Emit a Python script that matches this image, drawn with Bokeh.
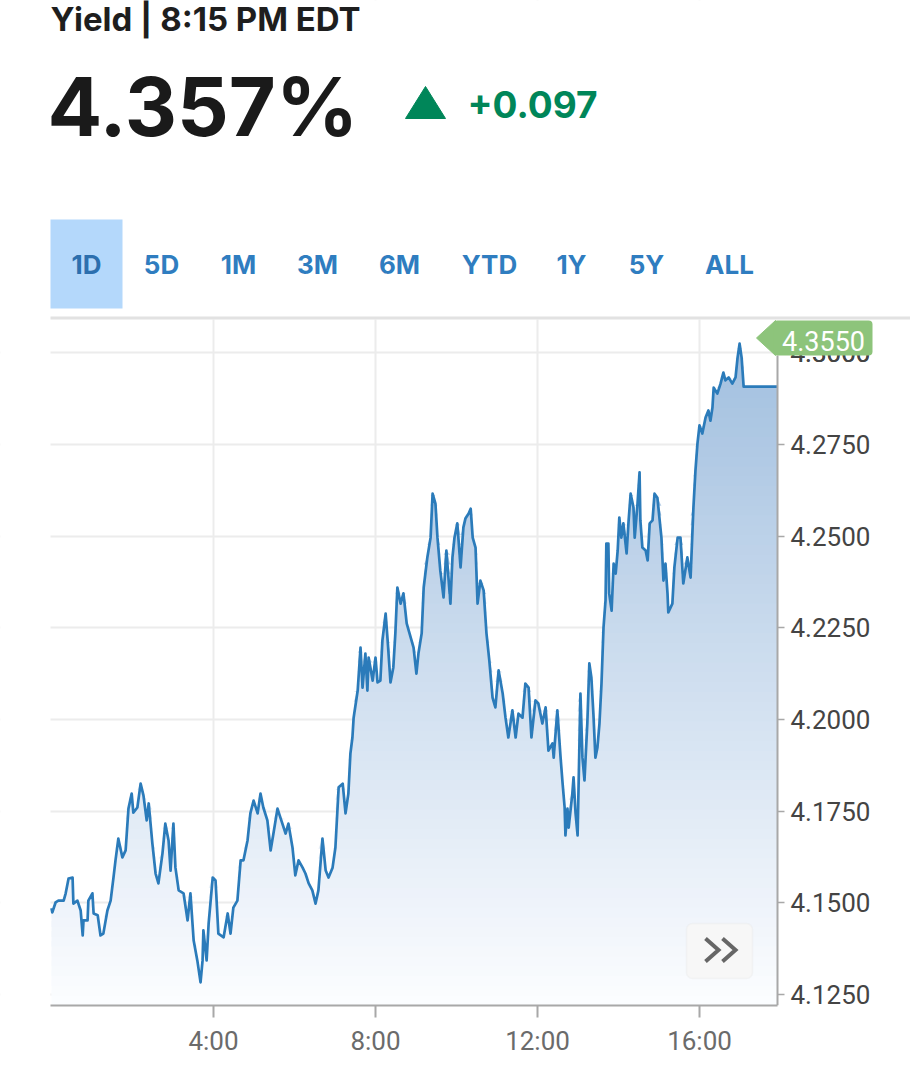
import numpy as np
from bokeh.plotting import figure
from bokeh.models import (Range1d, FixedTicker, NumeralTickFormatter, Label,
                          BoxAnnotation, ColumnDataSource)
from bokeh.embed import file_html
from bokeh.resources import INLINE

# ---------------- data ----------------
hours = [0.00, 0.02, 0.10, 0.17, 0.30, 0.35, 0.42, 0.52, 0.54, 0.64, 0.72, 0.77, 0.79, 0.89, 0.91,
         1.01, 1.04, 1.14, 1.21, 1.28, 1.38, 1.46, 1.53, 1.58, 1.65, 1.75, 1.83, 1.90, 1.98, 2.02,
         2.12, 2.20, 2.27, 2.35, 2.40, 2.49, 2.57, 2.64, 2.74, 2.81, 2.89, 2.94, 3.01, 3.06, 3.14,
         3.26, 3.36, 3.43, 3.51, 3.60, 3.68, 3.73, 3.75, 3.83, 3.88, 3.98, 4.05, 4.12, 4.25, 4.35,
         4.42, 4.49, 4.59, 4.67, 4.74, 4.84, 4.91, 4.99, 5.09, 5.16, 5.23, 5.33, 5.41, 5.48, 5.58,
         5.65, 5.78, 5.85, 5.95, 6.02, 6.10, 6.20, 6.27, 6.35, 6.44, 6.52, 6.59, 6.69, 6.77, 6.84,
         6.94, 7.01, 7.09, 7.19, 7.26, 7.33, 7.38, 7.43, 7.46, 7.56, 7.63, 7.68, 7.75, 7.80, 7.83,
         7.93, 8.00, 8.05, 8.12, 8.17, 8.25, 8.30, 8.37, 8.44, 8.49, 8.54, 8.62, 8.69, 8.77, 8.84,
         8.94, 9.01, 9.06, 9.14, 9.19, 9.28, 9.36, 9.41, 9.48, 9.53, 9.60, 9.68, 9.75, 9.85, 9.90,
         9.95, 10.02, 10.10, 10.17, 10.22, 10.30, 10.35, 10.40, 10.47, 10.52, 10.59, 10.67, 10.74,
         10.81, 10.89, 10.96, 11.04, 11.14, 11.21, 11.28, 11.38, 11.46, 11.53, 11.63, 11.70, 11.78,
         11.85, 11.95, 12.02, 12.12, 12.20, 12.27, 12.37, 12.40, 12.49, 12.57, 12.62, 12.67, 12.69,
         12.74, 12.77, 12.86, 12.89, 12.94, 12.99, 13.06, 13.11, 13.16, 13.23, 13.28, 13.33, 13.38,
         13.43, 13.48, 13.53, 13.58, 13.63, 13.68, 13.70, 13.75, 13.77, 13.83, 13.88, 13.93, 13.98,
         14.02, 14.07, 14.12, 14.20, 14.25, 14.30, 14.37, 14.40, 14.47, 14.52, 14.54, 14.59, 14.67,
         14.72, 14.77, 14.84, 14.89, 14.96, 15.06, 15.11, 15.16, 15.21, 15.23, 15.33, 15.38, 15.46,
         15.53, 15.60, 15.70, 15.78, 15.85, 15.90, 15.95, 16.00, 16.07, 16.15, 16.22, 16.27, 16.32,
         16.35, 16.44, 16.52, 16.59, 16.64, 16.72, 16.81, 16.89, 16.94, 16.99, 17.04, 17.09, 17.93]

yields = [4.1485, 4.1474, 4.1501, 4.1506, 4.1506, 4.1526, 4.1566, 4.1569, 4.1498, 4.1506, 4.1479,
          4.1411, 4.1452, 4.1452, 4.1506, 4.1526, 4.1471, 4.1466, 4.1411, 4.1416, 4.1479, 4.1506,
          4.1569, 4.1616, 4.1675, 4.1624, 4.1643, 4.1757, 4.1798, 4.1746, 4.1760, 4.1825, 4.1793,
          4.1725, 4.1771, 4.1662, 4.1580, 4.1553, 4.1635, 4.1716, 4.1670, 4.1588, 4.1716, 4.1596,
          4.1534, 4.1526, 4.1452, 4.1526, 4.1397, 4.1343, 4.1283, 4.1343, 4.1425, 4.1343, 4.1444,
          4.1569, 4.1561, 4.1416, 4.1406, 4.1471, 4.1416, 4.1487, 4.1506, 4.1616, 4.1616, 4.1670,
          4.1744, 4.1779, 4.1744, 4.1798, 4.1760, 4.1725, 4.1643, 4.1689, 4.1757, 4.1733, 4.1689,
          4.1716, 4.1651, 4.1575, 4.1616, 4.1596, 4.1580, 4.1553, 4.1534, 4.1498, 4.1534, 4.1675,
          4.1588, 4.1569, 4.1596, 4.1651, 4.1815, 4.1825, 4.1744, 4.1798, 4.1907, 4.1951, 4.2005,
          4.2079, 4.2196, 4.2087, 4.2180, 4.2079, 4.2169, 4.2106, 4.2169, 4.2101, 4.2106, 4.2215,
          4.2289, 4.2215, 4.2101, 4.2142, 4.2235, 4.2360, 4.2316, 4.2344, 4.2262, 4.2235, 4.2196,
          4.2125, 4.2180, 4.2235, 4.2360, 4.2442, 4.2496, 4.2616, 4.2589, 4.2496, 4.2406, 4.2333,
          4.2461, 4.2316, 4.2442, 4.2496, 4.2535, 4.2415, 4.2524, 4.2548, 4.2562, 4.2575, 4.2496,
          4.2469, 4.2316, 4.2379, 4.2352, 4.2235, 4.2161, 4.2060, 4.2033, 4.2134, 4.2071, 4.2005,
          4.1951, 4.2025, 4.1951, 4.2016, 4.2005, 4.2098, 4.2087, 4.1951, 4.2052, 4.2044, 4.1989,
          4.2033, 4.1915, 4.1935, 4.1896, 4.2025, 4.1896, 4.1825, 4.1760, 4.1684, 4.1757, 4.1705,
          4.1798, 4.1842, 4.1744, 4.1684, 4.2071, 4.1896, 4.1834, 4.1989, 4.2153, 4.2115, 4.2016,
          4.1896, 4.1924, 4.1989, 4.2098, 4.2251, 4.2325, 4.2480, 4.2480, 4.2344, 4.2297, 4.2425,
          4.2398, 4.2461, 4.2551, 4.2496, 4.2535, 4.2453, 4.2543, 4.2616, 4.2578, 4.2496, 4.2589,
          4.2674, 4.2543, 4.2469, 4.2461, 4.2434, 4.2535, 4.2543, 4.2616, 4.2605, 4.2496, 4.2379,
          4.2425, 4.2344, 4.2292, 4.2316, 4.2415, 4.2496, 4.2496, 4.2371, 4.2442, 4.2387, 4.2578,
          4.2679, 4.2753, 4.2802, 4.2780, 4.2824, 4.2843, 4.2815, 4.2851, 4.2905, 4.2889, 4.2916,
          4.2946, 4.2925, 4.2933, 4.2916, 4.2933, 4.2987, 4.3025, 4.2987, 4.2908, 4.2908]

x_ticks = [4, 8, 12, 16]
x_tick_labels = ["4:00", "8:00", "12:00", "16:00"]
y_ticks = [4.125, 4.150, 4.175, 4.200, 4.225, 4.250, 4.275, 4.300]

title_text = "Yield | 8:15 PM EDT"
last_text = "4.357%"
change_text = "+0.097"
tabs = ["1D", "5D", "1M", "3M", "6M", "YTD", "1Y", "5Y", "ALL"]
tag_text = "4.3550"

# ---------------- geometry (page pixels) ----------------
W, H = 910, 1060
FL, FR, FT, FB = 50, 777, 319, 1005   # chart data area on the page
Y0, Y1 = 4.1220, 4.3091                # yield at FB / FT
X0, X1 = -0.025, 17.926                # hours at FL / FR
PX_PER_H = (FR - FL) / (X1 - X0)
PX_PER_Y = (FB - FT) / (Y1 - Y0)


def hx(px):   # page x -> hours
    return X0 + (px - FL) / PX_PER_H


def vy(py):   # page y -> yield
    return Y0 + (FB - py) / PX_PER_Y


def sy(py):   # page y -> frame screen units (frame covers the page above the x axis)
    return FB - py


def base(py, fs, k=0.38):   # screen y for a text whose baseline should sit at page y
    return sy(py - k * fs)


p = figure(width=W, height=H, x_range=Range1d(hx(0), hx(W)), y_range=Range1d(Y0, vy(0)),
           output_backend="svg", toolbar_location=None, y_axis_location="right",
           min_border_left=0, min_border_right=0, min_border_top=0, min_border_bottom=H - FB)
p.outline_line_color = None
p.background_fill_color = "white"
p.border_fill_color = "white"

# ---- axes ----
p.xaxis.ticker = FixedTicker(ticks=x_ticks)
p.xaxis.major_label_overrides = {t: l for t, l in zip(x_ticks, x_tick_labels)}
p.xaxis.bounds = (X0, X1)
p.xaxis.minor_tick_line_color = None
p.xaxis.axis_line_color = "#a8a8a8"
p.xaxis.axis_line_width = 2
p.xaxis.major_tick_line_color = "#a8a8a8"
p.xaxis.major_tick_line_width = 2
p.xaxis.major_tick_in = 0
p.xaxis.major_tick_out = 12
p.xaxis.major_label_standoff = 8
p.xaxis.major_label_text_font = "Roboto"
p.xaxis.major_label_text_font_size = "26px"
p.xaxis.major_label_text_color = "#6b6b6b"

TAG_BOTTOM = 355
p.yaxis.ticker = FixedTicker(ticks=y_ticks)
p.yaxis.formatter = NumeralTickFormatter(format="0.0000")
p.yaxis.fixed_location = X1
p.yaxis.bounds = (Y0, vy(TAG_BOTTOM))      # the part above is hidden by the value tag
p.yaxis.minor_tick_line_color = None
p.yaxis.axis_line_color = "#a8a8a8"
p.yaxis.axis_line_width = 2
p.yaxis.major_tick_line_color = "#a8a8a8"
p.yaxis.major_tick_line_width = 1.5
p.yaxis.major_tick_in = 0
p.yaxis.major_tick_out = 7
p.yaxis.major_label_standoff = 6
p.yaxis.major_label_text_font = "Roboto"
p.yaxis.major_label_text_font_size = "26px"
p.yaxis.major_label_text_color = "#444444"

p.xgrid.ticker = FixedTicker(ticks=x_ticks)
p.ygrid.ticker = FixedTicker(ticks=y_ticks)
p.xgrid.bounds = (X0, X1)
p.ygrid.bounds = (Y0, Y1)
for g in (p.xgrid, p.ygrid):
    g.grid_line_color = "#ececec"
    g.grid_line_width = 2

# white masks that limit the grid to the data area
for kw in (dict(right=X0), dict(left=X1), dict(bottom=Y1)):
    p.add_layout(BoxAnnotation(fill_color="white", fill_alpha=1.0, line_color=None,
                               level="underlay", **kw))

# ---- gradient area under the line (horizontal colour bands) ----
xs = np.array(hours)
ys = np.array(yields)
n_bands = 70
edges = np.linspace(Y0, Y1, n_bands + 1)
top_rgb = np.array([158, 189, 222])
bot_rgb = np.array([252, 253, 255])
for k in range(n_bands):
    lo, hi = edges[k], edges[k + 1]
    t = (0.5 * (lo + hi) - Y0) / (Y1 - Y0)
    rgb = (bot_rgb + (top_rgb - bot_rgb) * t).round().astype(int)
    upper = np.clip(ys, lo, hi + (hi - lo) * 0.6)
    src = ColumnDataSource(dict(x=xs, y1=np.full_like(ys, lo), y2=upper))
    p.varea(x="x", y1="y1", y2="y2", source=src,
            fill_color="#%02x%02x%02x" % tuple(rgb), fill_alpha=1.0)

p.line(xs, ys, line_color="#2b7bba", line_width=2.7, line_join="round")

# ---- header ----
p.add_layout(Label(x=50, y=base(31, 33), x_units="screen", y_units="screen", text=title_text,
                   text_font="Inter", text_font_style="bold", text_font_size="33px",
                   text_color="#1e1e1e", text_baseline="alphabetic"))
p.add_layout(Label(x=47, y=base(137, 81), x_units="screen", y_units="screen", text=last_text,
                   text_font="Inter", text_font_style="bold", text_font_size="81px",
                   text_color="#1a1a1a", text_baseline="alphabetic"))
p.patch([hx(405), hx(445), hx(425)], [vy(118), vy(118), vy(86)],
        fill_color="#008659", line_color="#008659", line_width=1)
p.add_layout(Label(x=467, y=base(118, 37), x_units="screen", y_units="screen", text=change_text,
                   text_font="Inter", text_font_style="bold", text_font_size="37px",
                   text_color="#008659", text_baseline="alphabetic"))

p.add_layout(BoxAnnotation(left=50, right=122, top=sy(219), bottom=sy(308),
                           left_units="screen", right_units="screen", top_units="screen",
                           bottom_units="screen", fill_color="#b4d8fb", fill_alpha=1.0,
                           line_color=None))
tab_x = [86, 161, 238, 317, 399, 489, 571, 646, 729]
for name, cx in zip(tabs, tab_x):
    p.add_layout(Label(x=cx, y=base(274, 26, 0.40), x_units="screen", y_units="screen",
                       text=name, text_font="Inter", text_font_style="bold",
                       text_font_size="26px", text_align="center", text_baseline="alphabetic",
                       text_color="#2c6fae" if name == "1D" else "#2f7dc0"))
p.add_layout(BoxAnnotation(left=50, right=W, top=sy(316), bottom=sy(319),
                           left_units="screen", right_units="screen", top_units="screen",
                           bottom_units="screen", fill_color="#e2e2e2", fill_alpha=1.0,
                           line_color=None))

# ---- last value tag (covers the 4.3000 tick label, of which only the foot shows) ----
p.add_layout(Label(x=FR + 13, y=(y_ticks[-1] - Y0) * PX_PER_Y, x_units="screen",
                   y_units="screen", text="%.4f" % y_ticks[-1], text_font="Roboto",
                   text_font_size="26px", text_baseline="middle", text_color="#444444"))
tag_green = "#8dc47b"
p.patch([hx(756), hx(775), hx(775)], [vy(337.5), vy(320), vy(TAG_BOTTOM)],
        fill_color=tag_green, line_color=tag_green, line_width=1)
p.add_layout(BoxAnnotation(left=773, right=872, top=sy(320), bottom=sy(TAG_BOTTOM),
                           left_units="screen", right_units="screen", top_units="screen",
                           bottom_units="screen", fill_color=tag_green, fill_alpha=1.0,
                           line_color=None, border_radius=4))
p.add_layout(Label(x=823, y=base(349, 27, 0.33), x_units="screen", y_units="screen",
                   text=tag_text, text_font="Roboto", text_font_size="27px", text_align="center",
                   text_baseline="alphabetic", text_color="white"))

# ---- scroll button ----
p.add_layout(BoxAnnotation(left=686, right=752, top=sy(923), bottom=sy(978),
                           left_units="screen", right_units="screen", top_units="screen",
                           bottom_units="screen", fill_color="#f7f7f7", fill_alpha=1.0,
                           line_color="#e6e6e6", line_width=1.5, border_radius=6))
chev = p.multi_line(xs=[[hx(705), hx(718), hx(705)], [hx(722), hx(735), hx(722)]],
                    ys=[[vy(938), vy(949.5), vy(961)], [vy(938), vy(949.5), vy(961)]],
                    line_color="#666666", line_width=4, line_join="miter")
chev.level = "overlay"

open("out.html", "w").write(file_html(p, INLINE))
